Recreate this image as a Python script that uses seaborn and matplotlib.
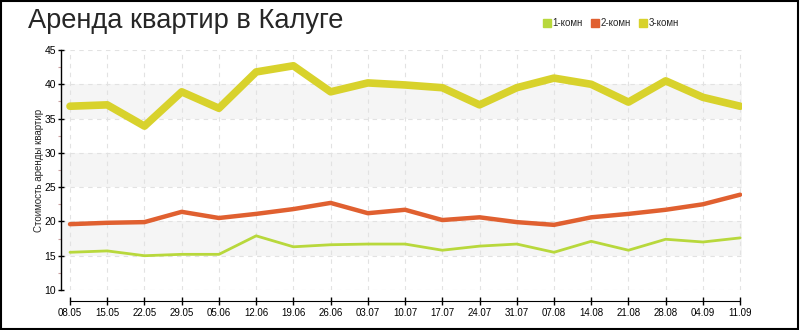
import matplotlib
matplotlib.use("Agg")
import matplotlib.pyplot as plt
import seaborn as sns
import pandas as pd
from matplotlib.lines import Line2D
from matplotlib.patches import Rectangle

dates = ["08.05", "15.05", "22.05", "29.05", "05.06", "12.06", "19.06", "26.06", "03.07", "10.07",
         "17.07", "24.07", "31.07", "07.08", "14.08", "21.08", "28.08", "04.09", "11.09"]
room1 = [15.5, 15.7, 15.0, 15.2, 15.2, 17.9, 16.3, 16.6, 16.7, 16.7,
         15.8, 16.4, 16.7, 15.5, 17.1, 15.8, 17.4, 17.0, 17.6]
room2 = [19.6, 19.8, 19.9, 21.4, 20.5, 21.1, 21.8, 22.7, 21.2, 21.7,
         20.2, 20.6, 19.9, 19.5, 20.6, 21.1, 21.7, 22.5, 23.9]
room3 = [36.8, 37.0, 33.9, 38.9, 36.5, 41.8, 42.7, 38.9, 40.2, 39.9,
         39.5, 37.0, 39.5, 40.9, 40.0, 37.4, 40.5, 38.1, 36.8]
series_names = ["1-комн", "2-комн", "3-комн"]
colors = ["#b8d83c", "#e06030", "#d8d22c"]
widths = [2.0, 3.2, 5.5]

sns.set_style("white")
plt.rcParams["font.family"] = ["Liberation Sans", "DejaVu Sans"]

fig = plt.figure(figsize=(8, 3.3), dpi=100)
W, H = 800, 330
ax = fig.add_axes([61 / W, 40 / H, (742 - 61) / W, 240 / H])

df = pd.DataFrame({"x": list(range(len(dates))) * 3,
                   "v": room1 + room2 + room3,
                   "s": [n for n in series_names for _ in dates]})

# bands
for lo in (15, 25, 35):
    ax.axhspan(lo, lo + 5, color="#f5f5f5", zorder=0, lw=0)
# grid
for yv in range(10, 46, 5):
    ax.axhline(yv, color="#e2e2e2", lw=0.8, ls=(0, (4, 4)), zorder=0.5)
for i in range(len(dates)):
    ax.axvline(i, color="#e2e2e2", lw=0.8, ls=(0, (4, 4)), zorder=0.5)

for name, c, w in zip(series_names, colors, widths):
    sub = df[df["s"] == name]
    sns.lineplot(data=sub, x="x", y="v", ax=ax, color=c, lw=w, legend=False, zorder=3)

ax.set_xlim(-9 / 37.2, 18.05)
ax.set_ylim(10, 45)
ax.set_xlabel("")
ax.set_ylabel("Стоимость аренды квартир", fontsize=7, labelpad=0.5)

ax.set_xticks(range(len(dates)))
ax.set_xticklabels(dates)
ax.set_yticks(range(10, 46, 5))
ax.set_yticklabels([str(v) for v in range(10, 46, 5)])
ax.set_yticks([12.5, 17.5, 22.5, 27.5, 32.5, 37.5, 42.5], minor=True)

for s in ("top", "right"):
    ax.spines[s].set_visible(False)
ax.spines["left"].set_color("black")
ax.spines["left"].set_linewidth(1)
ax.spines["left"].set_bounds(10, 45)
ax.spines["bottom"].set_position(("outward", 8))
ax.spines["bottom"].set_bounds(0, 18)
ax.spines["bottom"].set_color("black")
ax.tick_params(axis="x", bottom=True, direction="inout", length=6, width=1, pad=2,
               colors="black", labelsize=7)
ax.tick_params(axis="y", which="major", left=True, direction="inout", length=5, width=1,
               pad=1, labelsize=7.5, colors="black")
ax.tick_params(axis="y", which="minor", left=True, direction="out", length=2.5, width=0.8,
               color="#c9a0a0")

fig.text(28 / W, 1 - 21 / H, "Аренда квартир в Калуге", fontsize=19.6, va="center", ha="left")

handles = [Line2D([], [], marker="s", ls="none", color=c, markersize=6) for c in colors]
fig.legend(handles, series_names, loc="center left", bbox_to_anchor=(538 / W, 1 - 23 / H),
           ncol=3, frameon=False, fontsize=7, handletextpad=0.1, columnspacing=0.7,
           handlelength=1.0, borderaxespad=0)

fig.patches.append(Rectangle((0.001, 0.002), 0.997, 0.996, transform=fig.transFigure,
                             fill=False, ec="black", lw=1.5))

fig.savefig("out.png", dpi=100)
